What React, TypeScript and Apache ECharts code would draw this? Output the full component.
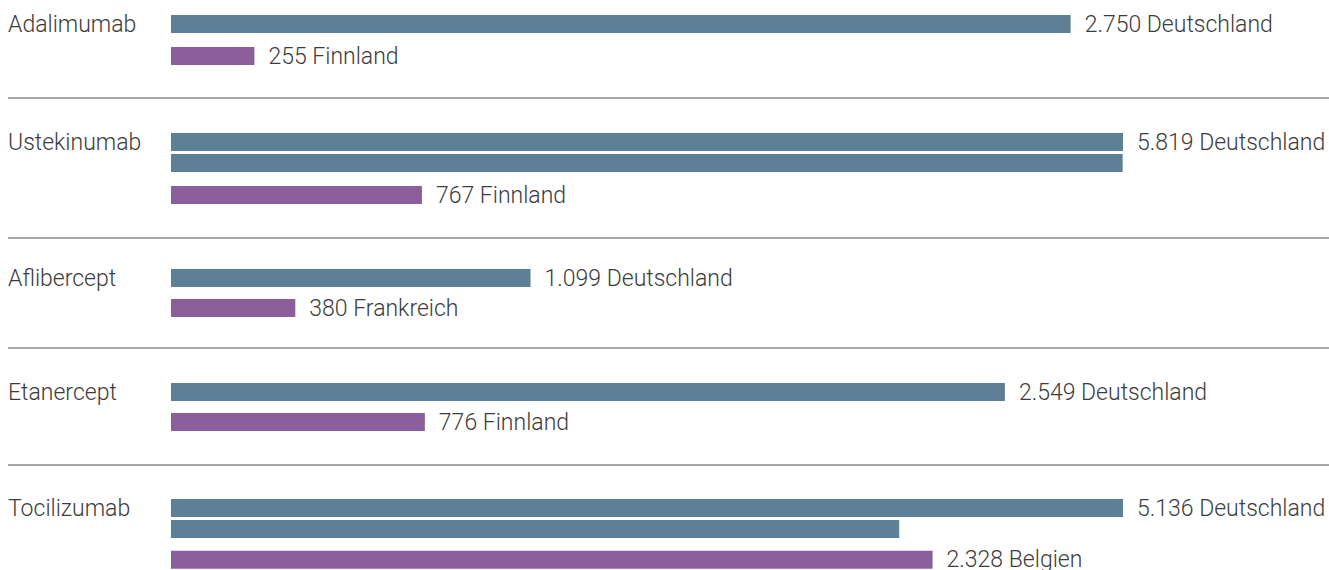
import React, { useEffect, useRef } from 'react';
import * as echarts from 'echarts';

// ---- data ----
const drugs = ['Adalimumab', 'Ustekinumab', 'Aflibercept', 'Etanercept', 'Tocilizumab'];
const referenceCountry = 'Deutschland';
const referenceValues = [2750, 5819, 1099, 2549, 5136];
const lowestCountries = ['Finnland', 'Finnland', 'Frankreich', 'Finnland', 'Belgien'];
const lowestValues = [255, 767, 380, 776, 2328];
const lineCapacity = 2910; // value that fills one bar line; longer bars wrap onto the next line

// ---- layout / style ----
const groupCenters = [24, 142, 278, 392, 508];
const lowestGaps = [32, 32, 30, 30, 31];
const separatorYs = [98, 238, 348, 465];
const WRAP_PITCH = 21;
const BAR_LEFT = 171;
const BAR_RIGHT = 1123;
const BAR_HEIGHT = 18;
const COLOR_REF = '#5e8096';
const COLOR_LOW = '#8b5f9b';
const TEXT_COLOR = '#3c3c3c';
const FONT = '"Roboto Light", Roboto, "Open Sans", sans-serif';
const FONT_SIZE = 23;
const FONT_WEIGHT = 300;

const fmt = (n: number) => String(n).replace(/\B(?=(\d{3})+(?!\d))/g, '.');

const splitLines = (v: number) => {
  const out: number[] = [];
  let r = v;
  while (r > 0) {
    out.push(Math.min(r, lineCapacity));
    r -= lineCapacity;
  }
  return out;
};

const textStyle = {
  fontSize: FONT_SIZE,
  fontFamily: FONT,
  fontWeight: FONT_WEIGHT,
  color: TEXT_COLOR,
};

function buildOption() {
  const grid: any[] = [];
  const xAxis: any[] = [];
  const yAxis: any[] = [];
  const series: any[] = [];

  const addGrid = (top: number, rows: string[], labelFn: ((idx: number) => string) | null) => {
    const idx = grid.length;
    grid.push({
      left: BAR_LEFT,
      width: BAR_RIGHT - BAR_LEFT,
      top: top - WRAP_PITCH / 2,
      height: rows.length * WRAP_PITCH,
    });
    xAxis.push({ type: 'value', gridIndex: idx, min: 0, max: lineCapacity, show: false });
    yAxis.push({
      type: 'category',
      gridIndex: idx,
      inverse: true,
      data: rows,
      axisLine: { show: false },
      axisTick: { show: false },
      splitLine: { show: false },
      axisLabel: {
        show: !!labelFn,
        interval: 0,
        align: 'left',
        margin: BAR_LEFT - 8,
        ...textStyle,
        formatter: (_v: string, i: number) => (labelFn ? labelFn(i) : ''),
      },
    });
    return idx;
  };

  drugs.forEach((drug, i) => {
    const lines = splitLines(referenceValues[i]);
    const n = lines.length;

    // reference country (may wrap over several lines)
    const refRows = lines.map((_, k) => `${drug} ${referenceCountry} ${k + 1}`);
    const g1 = addGrid(groupCenters[i], refRows, (k) => (k === 0 ? drug : ''));
    series.push({
      type: 'bar',
      name: referenceCountry,
      xAxisIndex: g1,
      yAxisIndex: g1,
      barWidth: BAR_HEIGHT,
      barMinWidth: BAR_HEIGHT,
      silent: true,
      itemStyle: { color: COLOR_REF },
      label: {
        show: false,
        position: 'right',
        distance: 14,
        ...textStyle,
        formatter: () => `${fmt(referenceValues[i])} ${referenceCountry}`,
      },
      data: lines.map((v, k) => ({ value: v, label: { show: k === 0 } })),
    });

    // lowest-price country
    const lowCenter = groupCenters[i] + WRAP_PITCH * (n - 1) + lowestGaps[i];
    const g2 = addGrid(lowCenter, [`${drug} ${lowestCountries[i]}`], null);
    series.push({
      type: 'bar',
      name: lowestCountries[i],
      xAxisIndex: g2,
      yAxisIndex: g2,
      barWidth: BAR_HEIGHT,
      barMinWidth: BAR_HEIGHT,
      silent: true,
      itemStyle: { color: COLOR_LOW },
      label: {
        show: true,
        position: 'right',
        distance: 14,
        ...textStyle,
        formatter: () => `${fmt(lowestValues[i])} ${lowestCountries[i]}`,
      },
      data: [lowestValues[i]],
    });
  });

  const graphic = separatorYs.map((y) => ({
    type: 'line',
    silent: true,
    shape: { x1: 8, y1: y, x2: 1329, y2: y },
    style: { stroke: '#8a8a8a', lineWidth: 1.5 },
  }));

  return {
    animation: false,
    backgroundColor: '#ffffff',
    grid,
    xAxis,
    yAxis,
    series,
    graphic,
  };
}

export default function App() {
  const ref = useRef<HTMLDivElement>(null);
  useEffect(() => {
    if (!ref.current) return;
    const chart = echarts.init(ref.current, undefined, { renderer: 'svg' });
    chart.setOption(buildOption() as any);
    return () => chart.dispose();
  }, []);
  return (
    <div
      ref={ref}
      style={{ position: 'absolute', left: 0, top: 0, width: 1329, height: 570 }}
    />
  );
}
